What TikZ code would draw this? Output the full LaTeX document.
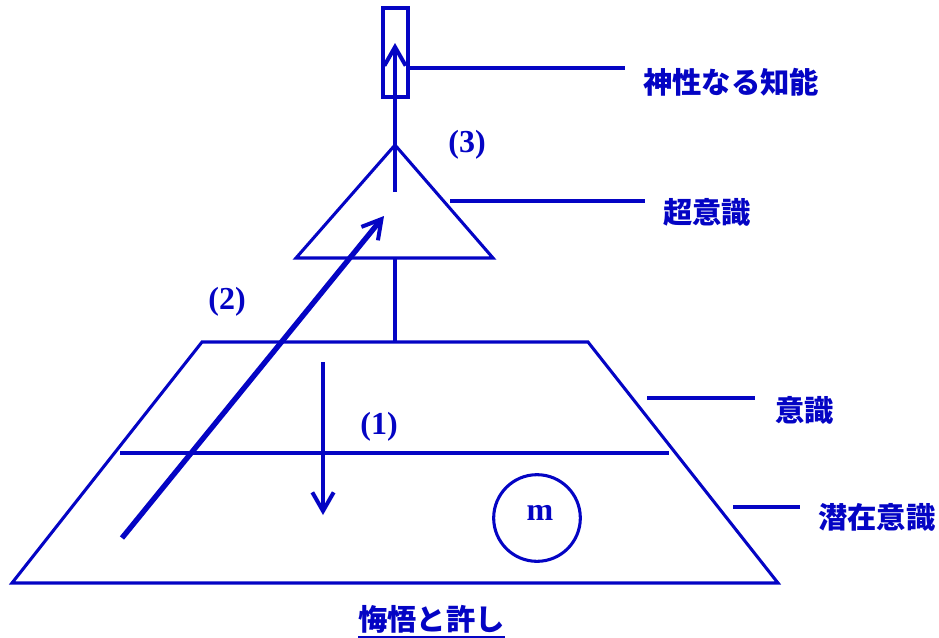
\documentclass[tikz,border=0pt]{standalone}
\usepackage{fontspec}
\setmainfont{Liberation Serif}
\newfontfamily\cjk{Noto Sans CJK JP}
\usetikzlibrary{arrows.meta}
\definecolor{dblue}{RGB}{4,4,196}
\begin{document}
\begin{tikzpicture}[x=0.75pt,y=-0.75pt,
  line join=miter,
  outline/.style={draw=dblue,line width=2.3pt},
  lead/.style={draw=dblue,line width=2.3pt},
  jlabel/.style={text=dblue,font=\cjk\bfseries\fontsize{22}{26}\selectfont,inner sep=0pt},
  nlabel/.style={text=dblue,font=\bfseries\fontsize{24}{28}\selectfont,inner sep=0pt},
  barb/.style={-{Straight Barb[length=14pt,width=16pt,line width=3pt]}}
]
\useasboundingbox (0,0) rectangle (939,637);
% key points
\coordinate (rtl) at (383,8);
\coordinate (rbr) at (408,97);
\coordinate (apex) at (395,145);
\coordinate (tbl) at (296,258);
\coordinate (tbr) at (493,258);
\coordinate (tbm) at (395,258);
\coordinate (ptl) at (202,342);
\coordinate (ptr) at (588,342);
\coordinate (pbr) at (778,583);
\coordinate (pbl) at (12,583);
\coordinate (ptm) at (395,342);
\coordinate (ml) at (120,453);
\coordinate (mr) at (669,453);
% shapes
\draw[outline] (rtl) rectangle (rbr);
\draw[outline] (apex) -- (tbr) -- (tbl) -- cycle;
\draw[outline] (tbm) -- (ptm);
\draw[outline] (ptl) -- (ptr) -- (pbr) -- (pbl) -- cycle;
\draw[outline] (ml) -- (mr);
\node[draw=dblue,line width=2.3pt,circle,minimum size=65pt,inner sep=0pt] (circ) at (537,518) {};
\node[nlabel] (m) at (540,513) {m};
% arrows
\coordinate (a3s) at (395,192);
\coordinate (a3e) at (395,43);
\draw[draw=dblue,line width=3.4pt,barb] (a3s) -- (a3e);
\coordinate (a2s) at (122,538);
\coordinate (a2e) at (384,216);
\draw[draw=dblue,line width=4pt,barb] (a2s) -- (a2e);
\coordinate (a1s) at (323,362);
\coordinate (a1e) at (323,515);
\draw[draw=dblue,line width=2.6pt,barb] (a1s) -- (a1e);
% number labels
\node[nlabel] (n3) at (467,145) {(3)};
\node[nlabel] (n2) at (227,302) {(2)};
\node[nlabel] (n1) at (379,427) {(1)};
% leader lines
\coordinate (l1a) at (408,68);  \coordinate (l1b) at (625,68);
\coordinate (l2a) at (450,201); \coordinate (l2b) at (645,201);
\coordinate (l3a) at (647,398); \coordinate (l3b) at (755,398);
\coordinate (l4a) at (733,507); \coordinate (l4b) at (800,507);
\draw[lead] (l1a) -- (l1b);
\draw[lead] (l2a) -- (l2b);
\draw[lead] (l3a) -- (l3b);
\draw[lead] (l4a) -- (l4b);
% text labels
\node[jlabel,anchor=west] (t1) at (643,82) {神性なる知能};
\node[jlabel,anchor=west] (t2) at (663,212) {超意識};
\node[jlabel,anchor=west] (t3) at (775,410) {意識};
\node[jlabel,anchor=west] (t4) at (818,517) {潜在意識};
\node[jlabel,anchor=west] (t5) at (358,619) {悔悟と許し};
\draw[draw=dblue,line width=1.5pt] ([yshift=-3pt]t5.south west) -- ([yshift=-3pt]t5.south east);
\end{tikzpicture}
\end{document}
